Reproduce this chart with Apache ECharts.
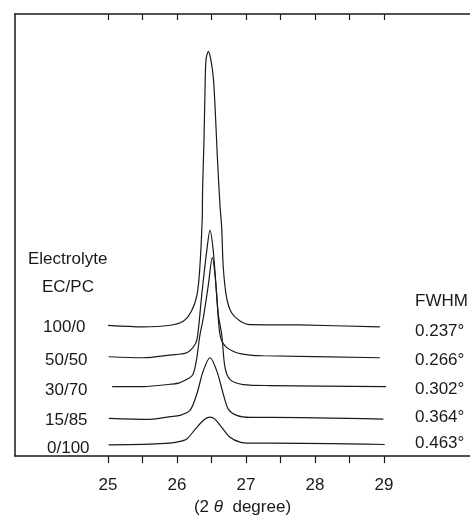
<!DOCTYPE html>
<html>
<head>
<meta charset="utf-8">
<script src="https://cdn.jsdelivr.net/npm/echarts@6/dist/echarts.min.js"></script>
<style>
  html, body { margin: 0; padding: 0; background: #fff; }
  #main { width: 470px; height: 521px; }
</style>
</head>
<body>
<div id="main"></div>
<script>
// x ticks (2 theta, degree)
var majorTicks = [25, 26, 27, 28, 29];
var minorTicks = [25, 25.5, 26, 26.5, 27, 27.5, 28, 28.5, 29];

// electrolyte composition EC/PC and FWHM, top to bottom
var electrolytes = ['100/0', '50/50', '30/70', '15/85', '0/100'];
var fwhm = ['0.237°', '0.266°', '0.302°', '0.364°', '0.463°'];

// traces (x = 2theta, y = stacked intensity, arb.)
var trace100_0 = [[25.00,131.5],[25.51,130],[25.90,131.7],[26.09,135.7],[26.21,146],[26.29,162.3],[26.33,189],[26.365,239],[26.371,269],[26.391,319],[26.406,369],[26.42,399],[26.454,407.3],[26.49,399],[26.526,381],[26.551,352],[26.584,302],[26.623,252],[26.648,229],[26.671,189],[26.72,159],[26.793,144],[26.913,136],[27.058,132.3],[27.78,132],[28.94,130]];
var trace50_50 = [[25.01,100],[25.51,99],[25.90,101.7],[26.141,104],[26.261,112.3],[26.30,122],[26.358,162],[26.43,206],[26.478,227.3],[26.526,206],[26.575,162],[26.623,122],[26.696,111],[26.865,104],[27.058,101.7],[27.25,101],[28.94,99]];
var trace30_70 = [[25.06,70],[25.51,70],[25.899,72.3],[26.043,74],[26.232,82.3],[26.333,122.3],[26.381,139],[26.454,172.3],[26.512,199.7],[26.551,182.3],[26.599,142.3],[26.648,122.3],[26.696,89],[26.77,77],[26.96,72],[27.35,71],[29.03,70]];
var trace15_85 = [[25.01,38],[25.61,37],[25.899,39.7],[26.043,41],[26.188,46],[26.286,62.3],[26.381,86],[26.478,99],[26.575,86],[26.671,62.3],[26.743,47.3],[26.865,41],[27.058,39],[27.35,39],[28.99,37.3]];
var trace0_100 = [[25.01,11.3],[25.61,12],[25.899,13],[25.996,14],[26.141,17.3],[26.286,29],[26.41,37.5],[26.478,39.3],[26.546,37.5],[26.648,29],[26.768,19],[26.913,14],[27.058,13],[27.35,13],[29.01,11.7]];

var traces = [trace100_0, trace50_50, trace30_70, trace15_85, trace0_100];

var chart = echarts.init(document.getElementById('main'));
var FONT = '"Liberation Sans", Arial, sans-serif';
var INK = '#1a1a1a';

var series = traces.map(function (d, i) {
  return {
    name: electrolytes[i],
    type: 'line',
    data: d,
    smooth: 0.3,
    showSymbol: false,
    lineStyle: { color: INK, width: 1.2 },
    z: 3
  };
});

// text beside the traces
var leftLabelY = [328, 361, 391, 421, 449];
var rightLabelY = [332, 361, 390, 418, 444];
var graphics = [
  { type: 'text', left: 28, top: 251, style: { text: 'Electrolyte', font: '17px ' + FONT, fill: INK } },
  { type: 'text', left: 42, top: 279, style: { text: 'EC/PC', font: '17px ' + FONT, fill: INK } },
  { type: 'text', left: 415, top: 293, style: { text: 'FWHM', font: '17px ' + FONT, fill: INK } }
];
electrolytes.forEach(function (t, i) {
  graphics.push({ type: 'text', left: i === 0 ? 43 : (i === 4 ? 47 : 45), top: leftLabelY[i] - 9,
    style: { text: t, font: '17px ' + FONT, fill: INK } });
});
fwhm.forEach(function (t, i) {
  graphics.push({ type: 'text', left: 415, top: rightLabelY[i] - 9,
    style: { text: t, font: '17px ' + FONT, fill: INK } });
});

var option = {
  backgroundColor: '#fff',
  animation: false,
  grid: { left: 15, top: 14, right: 0, bottom: 62 },
  xAxis: [{
    type: 'value',
    min: 23.652,
    max: 30.246,
    position: 'bottom',
    axisLine: { show: true, lineStyle: { color: INK, width: 1.5 } },
    axisTick: { show: true, inside: false, length: 7, customValues: minorTicks, lineStyle: { color: INK, width: 1.2 } },
    axisLabel: { show: true, customValues: majorTicks, margin: 21, color: INK, fontSize: 17, fontFamily: FONT },
    splitLine: { show: false },
    name: '(2 {i|θ}  degree)',
    nameLocation: 'middle',
    nameGap: 42,
    nameTextStyle: {
      color: INK, fontSize: 17, fontFamily: FONT,
      rich: { i: { fontStyle: 'italic', fontSize: 17, fontFamily: FONT, color: INK } }
    }
  }, {
    type: 'value',
    min: 23.652,
    max: 30.246,
    position: 'top',
    axisLine: { show: true, lineStyle: { color: INK, width: 1.5 } },
    axisTick: { show: true, inside: true, length: 6, customValues: minorTicks, lineStyle: { color: INK, width: 1.2 } },
    axisLabel: { show: false },
    splitLine: { show: false }
  }],
  yAxis: {
    type: 'value',
    min: 0,
    max: 445,
    axisLine: { show: true, lineStyle: { color: INK, width: 1.5 } },
    axisTick: { show: false },
    axisLabel: { show: false },
    splitLine: { show: false }
  },
  series: series,
  graphic: graphics
};

chart.setOption(option);
</script>
</body>
</html>
